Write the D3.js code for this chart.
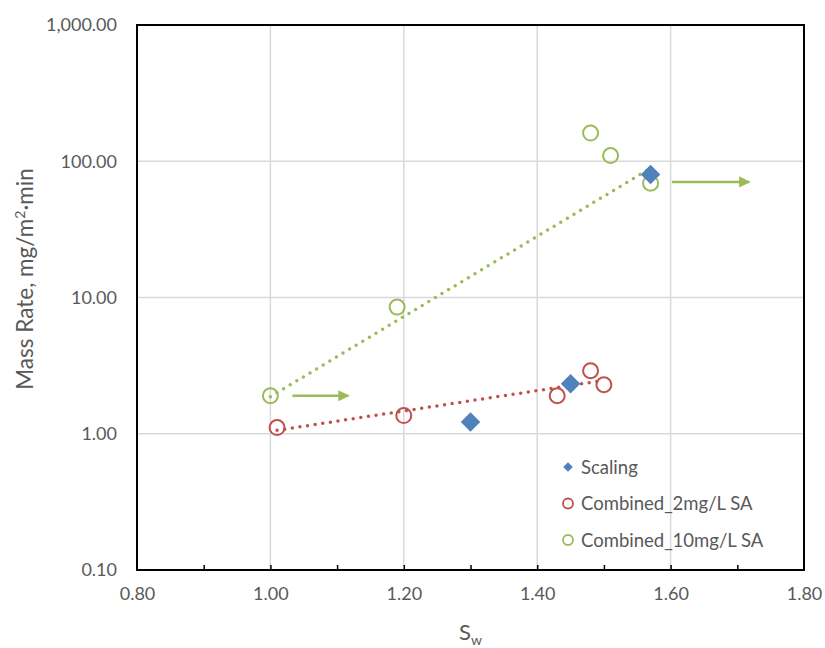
<!DOCTYPE html>
<html>
<head>
<meta charset="utf-8">
<script src="https://cdn.jsdelivr.net/npm/d3@7"></script>
<style>
  body { margin: 0; background: #fff; }
  text { font-family: Lato, "Open Sans", sans-serif; fill: #595959; }
</style>
</head>
<body>
<div class="chart"></div>
<script>
// series
const scalingX = [1.30, 1.45, 1.57];
const scalingY = [1.22, 2.33, 80];

const sa2X = [1.01, 1.20, 1.43, 1.48, 1.50];
const sa2Y = [1.11, 1.36, 1.90, 2.90, 2.29];

const sa10X = [1.00, 1.19, 1.48, 1.51, 1.57];
const sa10Y = [1.90, 8.5, 161, 110, 69];

// dotted trend lines (end points)
const trend2X = [1.01, 1.49];
const trend2Y = [1.06, 2.42];
const trend10X = [1.00, 1.565];
const trend10Y = [1.87, 86];

// arrows
const arrowX = [[1.033, 1.117], [1.602, 1.718]];
const arrowY = [1.9, 70.5];

const xTicks = [0.8, 1.0, 1.2, 1.4, 1.6, 1.8];
const xMinor = [0.9, 1.0, 1.1, 1.2, 1.3, 1.4, 1.5, 1.6, 1.7];
const yTicks = [0.1, 1, 10, 100, 1000];
const legendNames = ["Scaling", "Combined_2mg/L SA", "Combined_10mg/L SA"];

const blue = "#4f81bd", red = "#c0504d", green = "#9bbb59";

const margin = ({ top: 25, right: 21, bottom: 78, left: 137 });
const W = 825, H = 648;
const width = W - margin.left - margin.right;
const height = H - margin.top - margin.bottom;

const svg = d3.select(".chart").append("svg")
    .attr("width", W).attr("height", H);

const g = svg.append("g").attr("transform", `translate(${margin.left},${margin.top})`);

const x = d3.scaleLinear().domain([0.8, 1.8]).range([0, width]);
const y = d3.scaleLog().domain([0.1, 1000]).range([height, 0]);

// grid
g.selectAll(".vgrid").data(xTicks.slice(1, -1)).enter().append("line")
    .attr("x1", d => x(d)).attr("x2", d => x(d))
    .attr("y1", 0).attr("y2", height)
    .attr("stroke", "#d9d9d9").attr("stroke-width", 1.5);
g.selectAll(".hgrid").data(yTicks.slice(1, -1)).enter().append("line")
    .attr("x1", 0).attr("x2", width)
    .attr("y1", d => y(d)).attr("y2", d => y(d))
    .attr("stroke", "#d9d9d9").attr("stroke-width", 1.5);

// x axis with inside minor ticks
const xAxis = g.append("g").attr("transform", `translate(0,${height})`)
    .call(d3.axisBottom(x).tickValues(xTicks).tickFormat(d3.format(".2f")).tickSize(0).tickPadding(17));
xAxis.select(".domain").remove();
xAxis.selectAll("text").attr("font-size", 18).attr("fill", "#595959")
    .style("font-family", "Lato, 'Open Sans', sans-serif");
g.append("g").attr("transform", `translate(0,${height})`)
    .call(d3.axisTop(x).tickValues(xMinor).tickFormat("").tickSize(5))
    .call(a => a.select(".domain").remove())
    .selectAll("line").attr("stroke", "#000").attr("stroke-width", 1.5);

// y axis labels
const yAxis = g.append("g")
    .call(d3.axisLeft(y).tickValues(yTicks).tickFormat(d3.format(",.2f")).tickSize(0).tickPadding(20));
yAxis.select(".domain").remove();
yAxis.selectAll("text").attr("font-size", 18).attr("fill", "#595959")
    .style("font-family", "Lato, 'Open Sans', sans-serif");

// frame
g.append("rect").attr("x", 0).attr("y", 0).attr("width", width).attr("height", height)
    .attr("fill", "none").attr("stroke", "#000").attr("stroke-width", 2);

// trend lines
const trendLine = d3.line().x(d => x(d[0])).y(d => y(d[1]));
g.append("path").datum(d3.zip(trend2X, trend2Y)).attr("d", trendLine)
    .attr("fill", "none").attr("stroke", red).attr("stroke-width", 3.5)
    .attr("stroke-linecap", "round").attr("stroke-dasharray", "0,7.7");
g.append("path").datum(d3.zip(trend10X, trend10Y)).attr("d", trendLine)
    .attr("fill", "none").attr("stroke", green).attr("stroke-width", 3.5)
    .attr("stroke-linecap", "round").attr("stroke-dasharray", "0,7.7");

// arrows
svg.append("defs").append("marker")
    .attr("id", "arrowhead").attr("viewBox", "0 0 10 10")
    .attr("refX", 9).attr("refY", 5)
    .attr("markerWidth", 5.5).attr("markerHeight", 4.5)
    .attr("markerUnits", "strokeWidth").attr("orient", "auto")
    .append("path").attr("d", "M0,0 L10,5 L0,10 Z").attr("fill", green);
g.selectAll(".arrow").data(arrowX).enter().append("line")
    .attr("x1", d => x(d[0])).attr("x2", (d) => x(d[1]) )
    .attr("y1", (d, i) => y(arrowY[i])).attr("y2", (d, i) => y(arrowY[i]))
    .attr("stroke", green).attr("stroke-width", 2.5)
    .attr("marker-end", "url(#arrowhead)");

// circles
g.selectAll(".c2").data(d3.zip(sa2X, sa2Y)).enter().append("circle")
    .attr("cx", d => x(d[0])).attr("cy", d => y(d[1])).attr("r", 7.5)
    .attr("fill", "none").attr("stroke", red).attr("stroke-width", 2);
g.selectAll(".c10").data(d3.zip(sa10X, sa10Y)).enter().append("circle")
    .attr("cx", d => x(d[0])).attr("cy", d => y(d[1])).attr("r", 7.5)
    .attr("fill", "none").attr("stroke", green).attr("stroke-width", 2);

// diamonds
const diamond = d3.symbol().type(d3.symbolSquare).size(190);
g.selectAll(".sc").data(d3.zip(scalingX, scalingY)).enter().append("path")
    .attr("d", diamond)
    .attr("transform", d => `translate(${x(d[0])},${y(d[1])}) rotate(45)`)
    .attr("fill", blue);

// legend
const legend = svg.append("g").attr("transform", "translate(568,467)");
legendNames.forEach((name, i) => {
    const row = legend.append("g").attr("transform", `translate(0,${i * 36.5})`);
    if (i === 0) {
        row.append("path").attr("d", d3.symbol().type(d3.symbolSquare).size(45))
            .attr("transform", "rotate(45)").attr("fill", blue);
    } else {
        row.append("circle").attr("r", 5).attr("fill", "none")
            .attr("stroke", i === 1 ? red : green).attr("stroke-width", 1.8);
    }
    row.append("text").attr("x", 13).attr("y", 6.5).attr("font-size", 18.5).text(name);
});

// axis titles
const yt = svg.append("text")
    .attr("transform", "translate(33,279) rotate(-90)")
    .attr("text-anchor", "middle").attr("font-size", 22.5);
yt.append("tspan").text("Mass Rate, mg/m");
yt.append("tspan").attr("font-size", 14).attr("dy", -8).text("2");
yt.append("tspan").attr("dy", 8).text("\u00b7min");

const xt = svg.append("text")
    .attr("x", x(1.3) + margin.left).attr("y", 640)
    .attr("text-anchor", "middle").attr("font-size", 22);
xt.append("tspan").text("S");
xt.append("tspan").attr("font-size", 14).attr("dy", 5).text("w");
</script>
</body>
</html>
